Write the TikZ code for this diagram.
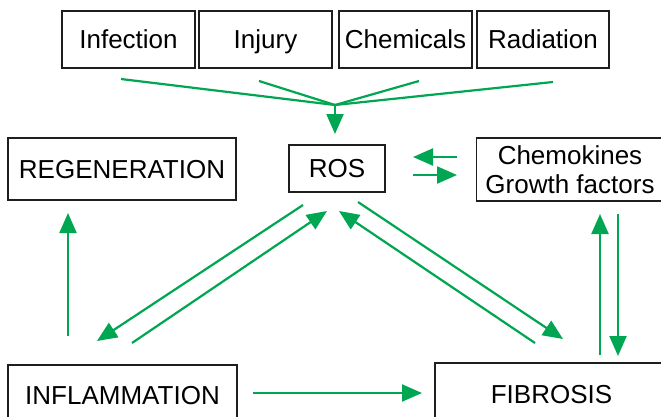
\documentclass[tikz,border=0pt]{standalone}
\usepackage{fontspec}
\setmainfont{Liberation Sans}
\usetikzlibrary{arrows.meta}
\definecolor{arrowgreen}{RGB}{0,166,81}
\definecolor{boxline}{RGB}{30,30,30}
\tikzset{
  box/.style={draw=boxline, line width=1.8pt, fill=white, inner sep=0pt,
    font=\fontsize{26}{29}\selectfont, align=center},
  onebox/.style={box, text height=18.6pt, text depth=0pt},
  conn/.style={draw=arrowgreen, line width=2.2pt},
  arr/.style={conn, -{Triangle[length=20pt,width=17pt]}},
}
\begin{document}
\begin{tikzpicture}[x=1pt,y=-1pt]
\useasboundingbox (0,0) rectangle (661,416);
\clip (0,0) rectangle (661,416);
\fill[white] (0,0) rectangle (661,416);
% top row
\node[onebox, minimum width=133pt, minimum height=57pt] (inf) at (128.5,39.5) {Infection};
\node[onebox, minimum width=133pt, minimum height=57pt] (inj) at (265.5,39.5) {Injury};
\node[onebox, minimum width=133pt, minimum height=57pt] (che) at (405.5,39.5) {Chemicals};
\node[onebox, minimum width=132pt, minimum height=57pt] (rad) at (543,39.5) {Radiation};
% middle row
\node[onebox, minimum width=228pt, minimum height=62pt] (reg) at (122,169) {REGENERATION};
\node[onebox, minimum width=96pt, minimum height=47pt] (ros) at (337,168.5) {ROS};
\node[box, minimum width=187pt, minimum height=63pt] (chm) at (570,169.5) {Chemokines\\Growth factors};
% bottom row
\node[onebox, minimum width=229pt, minimum height=60pt] (infl) at (122.5,395) {INFLAMMATION};
\node[onebox, minimum width=233pt, minimum height=62pt] (fib) at (551.5,394) {FIBROSIS};
% coordinates
\coordinate (s1) at (121,79);
\coordinate (s2) at (259,81);
\coordinate (s3) at (419,81);
\coordinate (s4) at (553,82);
\coordinate (cv) at (335,105);
\coordinate (cvt) at (335,134);
\coordinate (rc1a) at (457,157);
\coordinate (rc1b) at (413,157);
\coordinate (rc2a) at (413,175);
\coordinate (rc2b) at (457,175);
\coordinate (ri1a) at (303,205);
\coordinate (ri1b) at (97,341);
\coordinate (ri2a) at (132,343);
\coordinate (ri2b) at (327,211);
\coordinate (rf1a) at (535,343);
\coordinate (rf1b) at (339,211);
\coordinate (rf2a) at (358,202);
\coordinate (rf2b) at (563,339);
\coordinate (rg1) at (68,336);
\coordinate (rg2) at (68,213);
\coordinate (cu1) at (600,355);
\coordinate (cu2) at (600,214);
\coordinate (cd1) at (618,214);
\coordinate (cd2) at (618,356);
\coordinate (if1) at (253,393);
\coordinate (if2) at (422,393);
% connectors
\draw[conn] (s1) -- (cv);
\draw[conn] (s2) -- (cv);
\draw[conn] (s3) -- (cv);
\draw[conn] (s4) -- (cv);
\draw[arr] (cv) -- (cvt);
\draw[arr] (rc1a) -- (rc1b);
\draw[arr] (rc2a) -- (rc2b);
\draw[arr] (ri1a) -- (ri1b);
\draw[arr] (ri2a) -- (ri2b);
\draw[arr] (rf1a) -- (rf1b);
\draw[arr] (rf2a) -- (rf2b);
\draw[arr] (rg1) -- (rg2);
\draw[arr] (cu1) -- (cu2);
\draw[arr] (cd1) -- (cd2);
\draw[arr] (if1) -- (if2);
\end{tikzpicture}
\end{document}
